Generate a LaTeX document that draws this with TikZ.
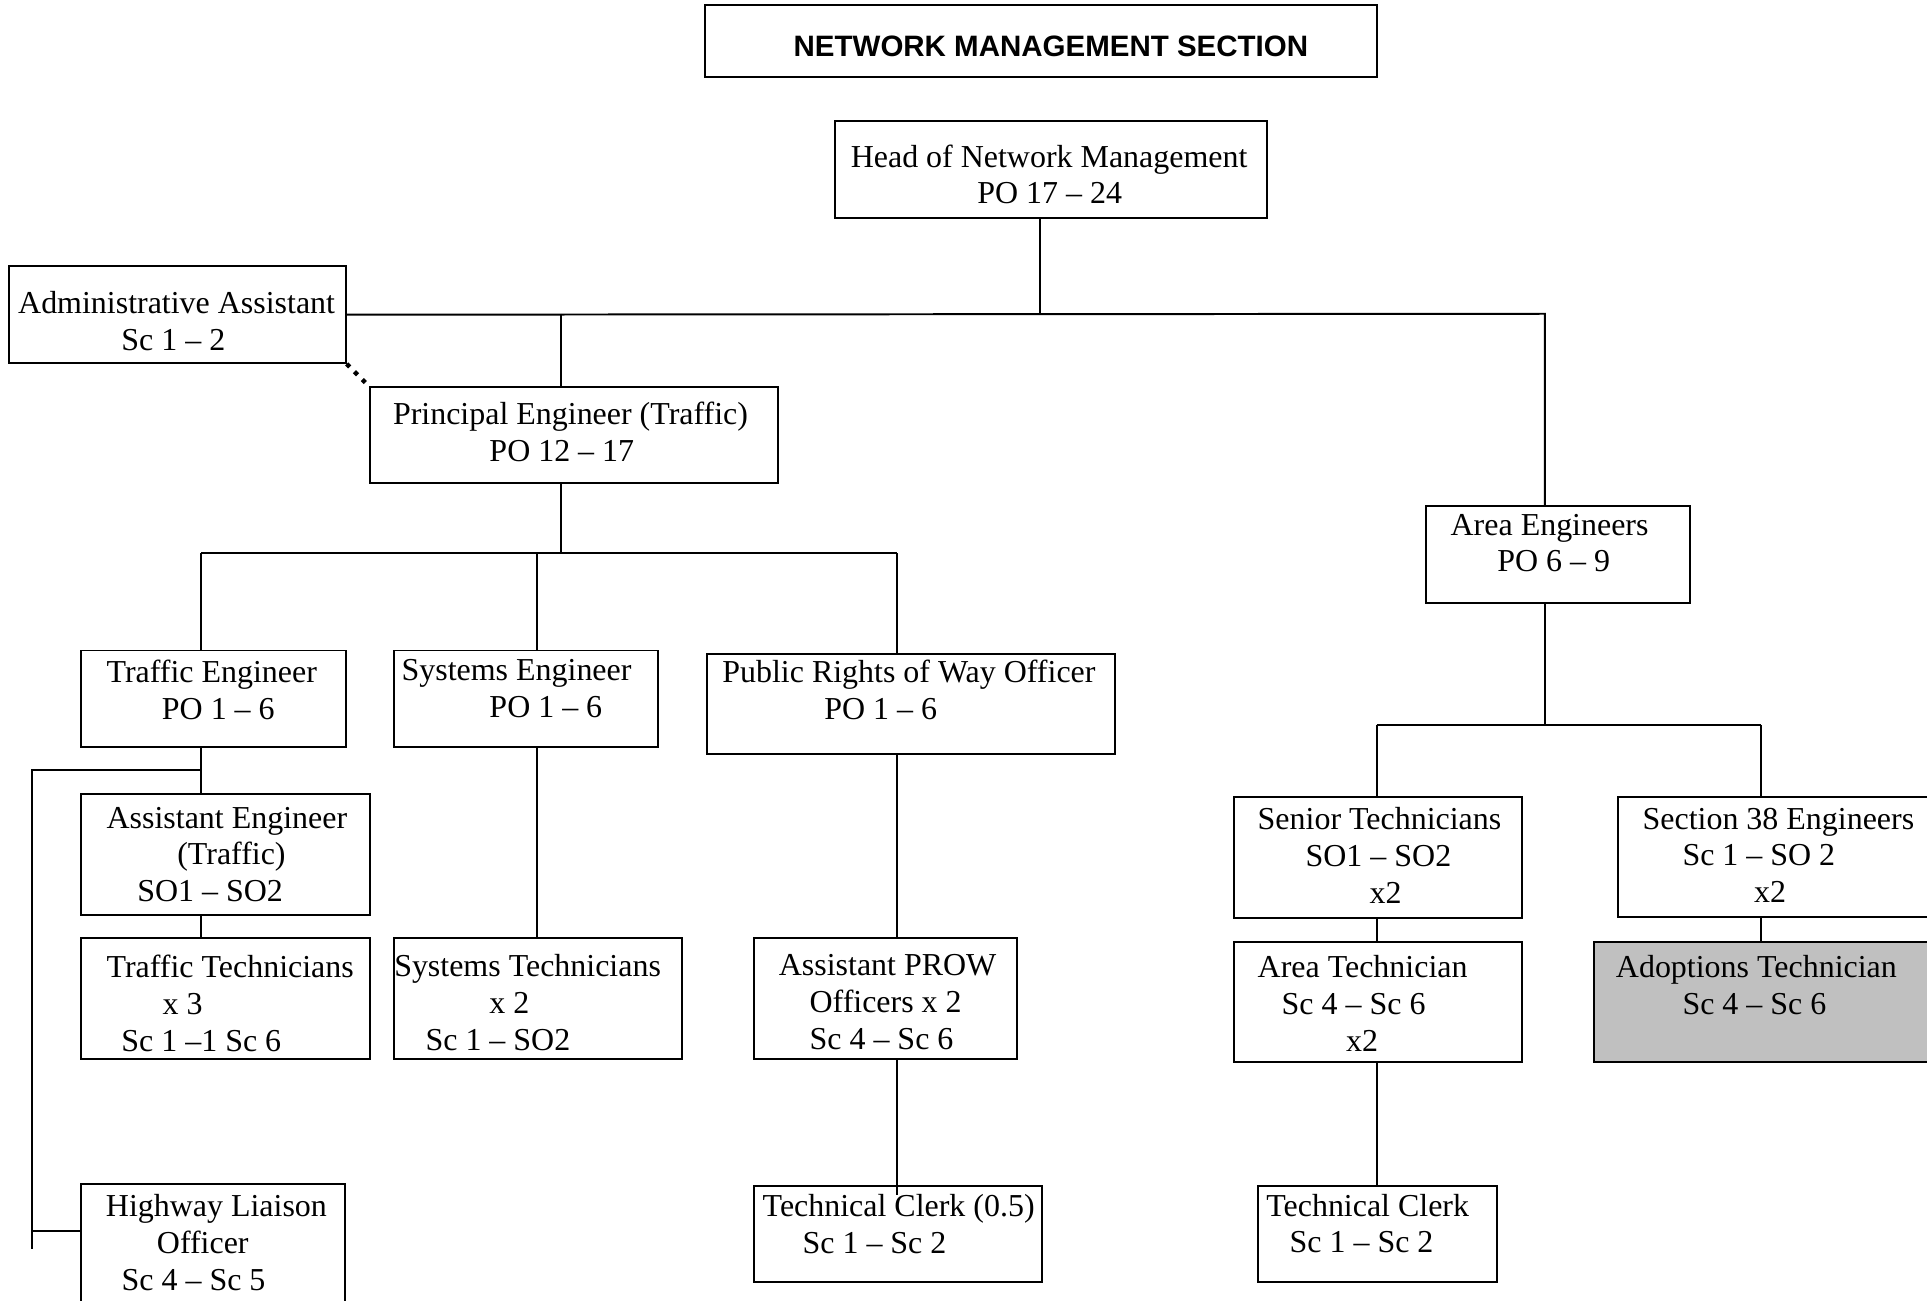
\documentclass[tikz,border=0pt]{standalone}
\usepackage{fontspec}
\setmainfont{Liberation Serif}
\newfontfamily\headfont{Liberation Sans}
\usepackage{tikz}
\definecolor{adoptgrey}{HTML}{C0C0C0}

\begin{document}
\begin{tikzpicture}[x=1pt,y=-1pt,line width=1.6pt,
    post/.style={draw,anchor=north west,inner sep=0pt},
    txt/.style={anchor=north west,inner sep=0pt,align=left,font=\fontsize{26}{30}\selectfont},
    dotline/.style={line width=3.5pt,dash pattern=on 3.5pt off 5.5pt}]
        \useasboundingbox (0,0) rectangle (1568,1058.6);

        \node[post,minimum width=547pt,minimum height=59pt] (title) at (573,3) {};
        \node[anchor=north west,inner sep=0pt,font=\headfont\bfseries\fontsize{24}{28}\selectfont] (title-t) at (645,28.5) {NETWORK MANAGEMENT SECTION};

        \node[post,minimum width=351.5pt,minimum height=78.5pt] (head) at (678.5,98) {};
        \node[txt] (head-t) at (691.5,116.8) {Head of Network Management\\\hspace*{103pt}PO 17 -- 24};
        \node[post,minimum width=274pt,minimum height=78.5pt] (admin) at (6.5,216) {};
        \node[txt] (admin-t) at (14,236.6) {Administrative Assistant\\\hspace*{84pt}Sc 1 -- 2};
        \node[post,minimum width=332pt,minimum height=78pt] (pe) at (300,314) {};
        \node[txt] (pe-t) at (319,326.3) {Principal Engineer (Traffic)\\\hspace*{78.5pt}PO 12 -- 17};
        \node[post,minimum width=215pt,minimum height=79pt] (area) at (1159.3,411) {};
        \node[txt] (area-t) at (1179.6,417.4) {Area Engineers\\\hspace*{38pt}PO 6 -- 9};

        \node[post,minimum width=215pt,minimum height=78.5pt] (te) at (65.5,528.5) {};
        \node[txt] (te-t) at (86,536.1) {Traffic Engineer\\\hspace*{45pt}PO 1 -- 6};
        \node[post,minimum width=214.6pt,minimum height=78.5pt] (se) at (319.7,528.5) {};
        \node[txt] (se-t) at (326,536.1) {Systems Engineer\\\hspace*{71.5pt}PO 1 -- 6};
        \node[post,minimum width=332.4pt,minimum height=80.7pt] (prow) at (574.3,531.7) {};
        \node[txt] (prow-t) at (587,536.1) {Public Rights of Way Officer\\\hspace*{83pt}PO 1 -- 6};

        \node[post,minimum width=234.7pt,minimum height=98pt] (ae) at (65.5,645.5) {};
        \node[txt] (ae-t) at (86,655.8) {Assistant Engineer\\\hspace*{57.5pt}(Traffic)\\\hspace*{25pt}SO1 -- SO2};
        \node[post,minimum width=234.7pt,minimum height=98.3pt] (tt) at (65.5,762.4) {};
        \node[txt] (tt-t) at (86,776.1) {Traffic Technicians\\\hspace*{45.5pt}x 3\\\hspace*{12pt}Sc 1 --1 Sc 6};
        \node[post,minimum width=234.2pt,minimum height=98.3pt] (st) at (319.7,762.4) {};
        \node[txt] (st-t) at (320,776.1) {Systems Technicians\\\hspace*{77.5pt}x 2\\\hspace*{25.5pt}Sc 1 -- SO2};
        \node[post,minimum width=214.7pt,minimum height=98.3pt] (aprow) at (612.4,762.4) {};
        \node[txt] (aprow-t) at (633,776.1) {Assistant PROW\\\hspace*{25pt}Officers x 2\\\hspace*{25pt}Sc 4 -- Sc 6};
        \node[post,minimum width=234.7pt,minimum height=78pt] (tc05) at (612.4,964) {};
        \node[txt] (tc05-t) at (619.8,971) {Technical Clerk (0.5)\\\hspace*{32.5pt}Sc 1 -- Sc 2};
        \node[post,minimum width=215.1pt,minimum height=110pt] (hlo) at (65.1,962.8) {};
        \node[txt] (hlo-t) at (85.4,971) {Highway Liaison\\\hspace*{41.5pt}Officer\\\hspace*{12.8pt}Sc 4 -- Sc 5};

        \node[post,minimum width=234.2pt,minimum height=98pt] (senior) at (1003.2,647.9) {};
        \node[txt] (senior-t) at (1022.6,656.5) {Senior Technicians\\\hspace*{39pt}SO1 -- SO2\\\hspace*{91pt}x2};
        \node[post,minimum width=270pt,minimum height=97.6pt] (s38) at (1315.5,647.7) {};
        \node[txt] (s38-t) at (1335.8,656.5) {Section 38 Engineers\\\hspace*{32.5pt}Sc 1 -- SO 2\\\hspace*{90.8pt}x2};
        \node[post,minimum width=234.2pt,minimum height=97.9pt] (atech) at (1003.2,765.5) {};
        \node[txt] (atech-t) at (1022.6,776.4) {Area Technician\\\hspace*{19.5pt}Sc 4 -- Sc 6\\\hspace*{72pt}x2};
        \node[post,fill=adoptgrey,minimum width=290pt,minimum height=97.9pt] (adopt) at (1296,765.4) {};
        \node[txt] (adopt-t) at (1314.1,776.4) {Adoptions Technician\\\hspace*{54.2pt}Sc 4 -- Sc 6};
        \node[post,minimum width=195pt,minimum height=78.4pt] (tc) at (1022.6,964.1) {};
        \node[txt] (tc-t) at (1029.6,970.7) {Technical Clerk\\\hspace*{19pt}Sc 1 -- Sc 2};

        \coordinate (hb) at (846.6,255.3);
        \coordinate (pb) at (456.3,255.3);
        \coordinate (ab) at (1257,255.3);
        \draw (head.south -| hb) -- (hb);
        \draw (admin.east) -- (ab) -- (area.north -| ab);
        \draw (pb) -- (pe.north -| pb);
        \draw[dotline] (admin.south east) -- (pe.north west);

        \coordinate (sb) at (456.3,450.3);
        \coordinate (sb1) at (163.6,450.3);
        \coordinate (sb2) at (436.8,450.3);
        \coordinate (sb3) at (730,450.3);
        \draw (pe.south -| sb) -- (sb);
        \draw (sb1) -- (sb3);
        \draw (sb1) -- (te.north -| sb1);
        \draw (sb2) -- (se.north -| sb2);
        \draw (sb3) -- (prow.north -| sb3);

        \draw (te.south -| sb1) -- (ae.north -| sb1);
        \draw (ae.south -| sb1) -- (tt.north -| sb1);
        \coordinate (lb) at (26,626.3);
        \coordinate (lb2) at (26,1016.5);
        \coordinate (lh) at (26,1001.4);
        \draw (sb1 |- lb) -- (lb) -- (lb2);
        \draw (lh) -- (hlo.west |- lh);
        \draw (se.south -| sb2) -- (st.north -| sb2);
        \coordinate (ce) at (730,972.4);
        \draw (prow.south -| sb3) -- (aprow.north -| sb3);
        \draw (aprow.south -| ce) -- (ce);

        \coordinate (rb) at (1257,589.8);
        \coordinate (rb1) at (1120.1,589.8);
        \coordinate (rb2) at (1432.6,589.8);
        \draw (area.south -| rb) -- (rb);
        \draw (rb1) -- (rb2);
        \draw (rb1) -- (senior.north -| rb1);
        \draw (rb2) -- (s38.north -| rb2);
        \draw (senior.south -| rb1) -- (atech.north -| rb1);
        \draw (s38.south -| rb2) -- (adopt.north -| rb2);
        \draw (atech.south -| rb1) -- (tc.north -| rb1);
    \end{tikzpicture}
\end{document}
